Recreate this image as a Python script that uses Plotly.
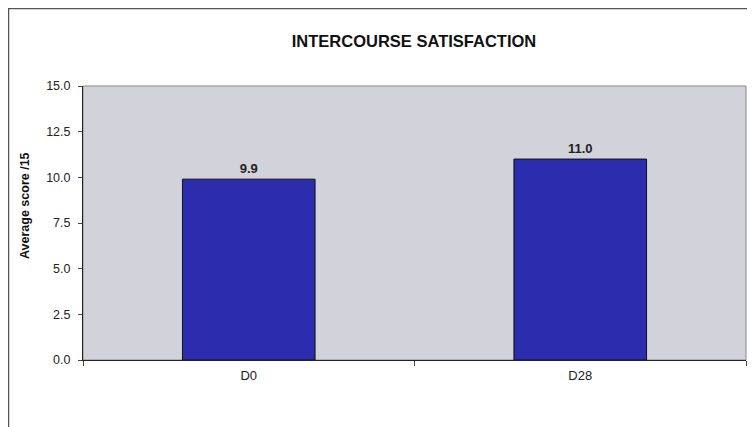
import plotly.graph_objects as go

categories = ["D0", "D28"]
scores = [9.9, 11.0]
y_ticks = [0, 2.5, 5, 7.5, 10, 12.5, 15]
y_tick_labels = ["0.0", "2.5", "5.0", "7.5", "10.0", "12.5", "15.0"]

FONT = "Liberation Sans, Arial, sans-serif"

fig = go.Figure()
fig.add_trace(go.Bar(
    x=categories, y=scores,
    marker=dict(color="#2C2CAE", line=dict(color="#111111", width=1)),
    width=0.4,
    text=[f"<b>{v:.1f}</b>" for v in scores],
    textposition="outside",
    textfont=dict(family=FONT, size=13, color="#222222"),
    cliponaxis=False,
))

# page is drawn at an 8px offset (body margin)
W, H = 747, 419
L, R, T, B = 75, 9, 78, 67
pw, ph = W - L - R, H - T - B

def px_x(p):
    return (p - L) / pw

def px_y(p):
    return (H - B - p) / ph

fig.update_layout(
    width=W, height=H,
    margin=dict(l=L, r=R, t=T, b=B),
    paper_bgcolor="white",
    plot_bgcolor="#D2D2DA",
    showlegend=False,
    title=dict(text="<b>INTERCOURSE SATISFACTION</b>", x=px_x(406), xref="paper",
               xanchor="center", y=1 - 33 / H, yanchor="middle",
               font=dict(family=FONT, size=16.5, color="#111111")),
    font=dict(family=FONT, size=12, color="#222222"),
    xaxis=dict(
        showgrid=False, showline=True, linecolor="#222222", linewidth=1,
        ticks="outside", tickson="boundaries", ticklen=5, tickcolor="#444444",
        ticklabelstandoff=3,
        tickfont=dict(family=FONT, size=13, color="#222222"),
    ),
    yaxis=dict(
        range=[0, 15], tickvals=y_ticks, ticktext=y_tick_labels,
        showgrid=False, showline=True, linecolor="#222222", linewidth=1,
        ticks="outside", ticklen=4, tickcolor="#444444", zeroline=False,
        ticklabelstandoff=5,
        tickfont=dict(family=FONT, size=12.5, color="#222222"),
    ),
    annotations=[
        dict(text="<b>Average score /15</b>", xref="paper", yref="paper",
             x=px_x(17), y=px_y(198), xanchor="center", yanchor="middle",
             textangle=-90, showarrow=False,
             font=dict(family=FONT, size=12.5, color="#111111")),
    ],
    shapes=[
        dict(type="rect", xref="paper", yref="paper", x0=0, y0=0, x1=1, y1=1,
             line=dict(color="#8A8A8A", width=1), layer="below"),
        dict(type="rect", xref="paper", yref="paper",
             x0=px_x(0.5), y0=px_y(440), x1=px_x(770), y1=px_y(0.5),
             line=dict(color="#555555", width=1.5)),
    ],
)

fig.write_html("out.html")
